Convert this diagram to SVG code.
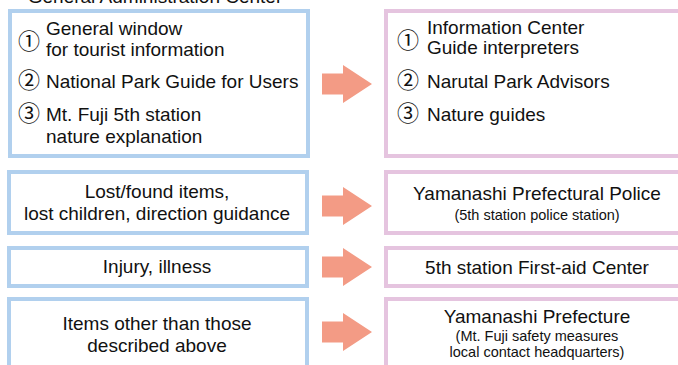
<svg xmlns="http://www.w3.org/2000/svg" width="678" height="365" viewBox="0 0 678 365">
<style>
.src{fill:#fff;stroke:#b1d0ee;stroke-width:4}
.dst{fill:#fff;stroke:#e5c4df;stroke-width:4}
text{font-family:"Liberation Sans",Arial,sans-serif;fill:#111;font-size:19px}
.c{text-anchor:middle}
.s{font-size:14.5px}
.n{font-family:"Noto Sans CJK JP","DejaVu Sans",sans-serif;font-size:22px}
.arr{fill:#f39b85}
</style>
<defs>
<path id="ar" d="M0,-10.5 H21 V-19 L50,0 L21,19 V10.5 H0 Z"/>
</defs>
<text class="c" x="155" y="3">General Administration Center</text>
<g id="src1">
<rect class="src" x="10" y="11" width="298" height="145"/>
<text class="n" x="18" y="49">①</text>
<text x="46" y="35">General window</text>
<text x="46" y="56">for tourist information</text>
<text class="n" x="18" y="88">②</text>
<text x="46" y="88">National Park Guide for Users</text>
<text class="n" x="18" y="121">③</text>
<text x="46" y="121">Mt. Fuji 5th station</text>
<text x="46" y="143">nature explanation</text>
</g>
<g id="dst1">
<rect class="dst" x="386" y="11" width="300" height="145"/>
<text class="n" x="397" y="48">①</text>
<text x="427" y="34">Information Center</text>
<text x="427" y="54">Guide interpreters</text>
<text class="n" x="397" y="88">②</text>
<text x="427" y="88">Narutal Park Advisors</text>
<text class="n" x="397" y="121">③</text>
<text x="427" y="121">Nature guides</text>
</g>
<g id="src2">
<rect class="src" x="9" y="172" width="298" height="61"/>
<text class="c" x="157" y="198">Lost/found items,</text>
<text class="c" x="157" y="220">lost children, direction guidance</text>
</g>
<g id="dst2">
<rect class="dst" x="386" y="172" width="300" height="61"/>
<text class="c" x="537" y="200">Yamanashi Prefectural Police</text>
<text class="c s" x="537" y="220">(5th station police station)</text>
</g>
<g id="src3">
<rect class="src" x="9" y="248" width="298" height="38"/>
<text class="c" x="157" y="273">Injury, illness</text>
</g>
<g id="dst3">
<rect class="dst" x="386" y="248" width="300" height="38"/>
<text class="c" x="537" y="274">5th station First-aid Center</text>
</g>
<g id="src4">
<rect class="src" x="9" y="299" width="298" height="80"/>
<text class="c" x="157" y="330">Items other than those</text>
<text class="c" x="157" y="352">described above</text>
</g>
<g id="dst4">
<rect class="dst" x="386" y="299" width="300" height="80"/>
<text class="c" x="537" y="323">Yamanashi Prefecture</text>
<text class="c s" x="537" y="341">(Mt. Fuji safety measures</text>
<text class="c s" x="537" y="357">local contact headquarters)</text>
</g>
<g id="connectors" class="arr">
<use href="#ar" x="322" y="84"/>
<use href="#ar" x="322" y="206"/>
<use href="#ar" x="322" y="267"/>
<use href="#ar" x="322" y="332"/>
</g>
</svg>
